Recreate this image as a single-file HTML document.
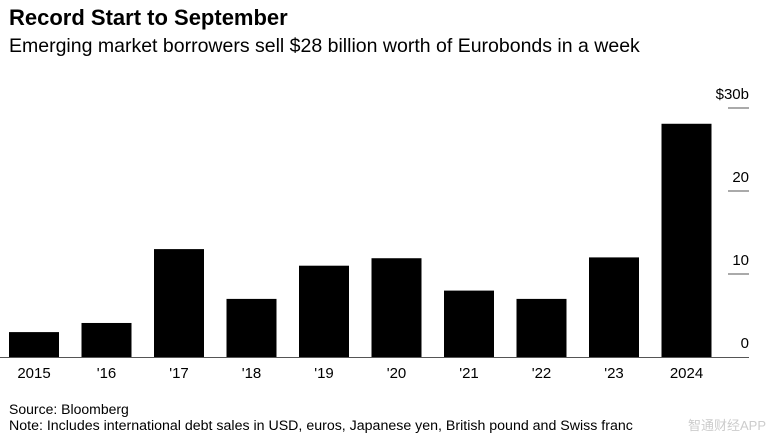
<!DOCTYPE html>
<html><head><meta charset="utf-8"><style>
body{margin:0;background:#fff;width:771px;height:441px;overflow:hidden;font-family:"Liberation Sans","Noto Sans CJK SC",sans-serif;}
</style></head><body>
<svg width="771" height="441">
<text x="9" y="25" font-size="22" font-weight="bold" fill="#000">Record Start to September</text>
<text x="9" y="52" font-size="19.5" fill="#000">Emerging market borrowers sell $28 billion worth of Eurobonds in a week</text>
<g id="bars"></g>
<g id="axis"></g>
<text x="9" y="414" font-size="14" fill="#000">Source: Bloomberg</text>
<text x="9" y="430" font-size="14.2" fill="#000">Note: Includes international debt sales in USD, euros, Japanese yen, British pound and Swiss franc</text>
<text x="766" y="430" font-size="13" fill="#ccc" text-anchor="end">智通财经APP</text>
</svg>
<script>
const categories=["2015","'16","'17","'18","'19","'20","'21","'22","'23","2024"];
const values=[3.0,4.1,13.0,7.0,11.0,11.9,8.0,7.0,12.0,28.1];
const ticks=[0,10,20,30];
const tickLabels=["0","10","20","$30b"];
const NS="http://www.w3.org/2000/svg";
const y0=357, pxPer=8.3, x0=9, step=72.5, bw=50;
const y=v=>y0-v*pxPer;
const x=i=>x0+i*step;
const bars=document.getElementById('bars'), axis=document.getElementById('axis');
categories.forEach((c,i)=>{
  const r=document.createElementNS(NS,'rect');
  r.setAttribute('x',x(i));r.setAttribute('y',y(values[i]));r.setAttribute('width',bw);r.setAttribute('height',y0-y(values[i]));r.setAttribute('fill','#000');
  
  
  bars.appendChild(r);
  const t=document.createElementNS(NS,'text');
  t.setAttribute('x',x(i)+bw/2);t.setAttribute('y',378);t.setAttribute('font-size','15');t.setAttribute('text-anchor','middle');t.textContent=c;
  
  
  axis.appendChild(t);
});
ticks.forEach((v,i)=>{
  if(v>0){
    const l=document.createElementNS(NS,'line');
    l.setAttribute('x1',728);l.setAttribute('x2',749);l.setAttribute('y1',y(v));l.setAttribute('y2',y(v));l.setAttribute('stroke','#555');l.setAttribute('stroke-width','1');
    
    
    axis.appendChild(l);
  }
  const t=document.createElementNS(NS,'text');
  t.setAttribute('x',749);t.setAttribute('y',y(v)-9);t.setAttribute('font-size','15');t.setAttribute('text-anchor','end');t.textContent=tickLabels[i];
  
  
  axis.appendChild(t);
});
const b=document.createElementNS(NS,'line');
b.setAttribute('x1',0);b.setAttribute('x2',749);b.setAttribute('y1',y0+0.5);b.setAttribute('y2',y0+0.5);b.setAttribute('stroke','#555');


axis.appendChild(b);
</script>
</body></html>
